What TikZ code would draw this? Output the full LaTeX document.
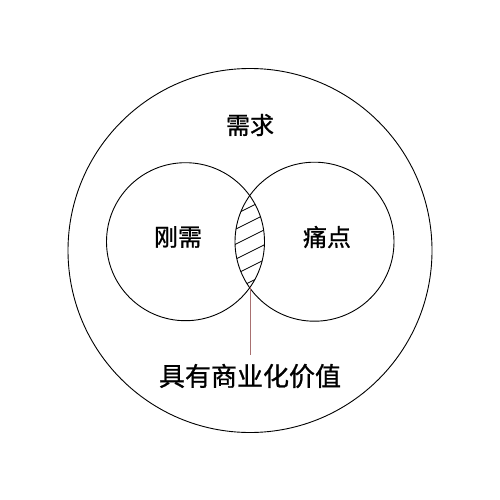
\documentclass[tikz,border=0pt]{standalone}
\usepackage{fontspec}
\newfontfamily\cjk[FakeBold=0.9]{Noto Sans CJK SC}
\begin{document}
\begin{tikzpicture}[x=1pt,y=-1pt,
  ring/.style={draw=black,line width=0.9pt,circle,inner sep=0pt},
  lbl/.style={font=\cjk\fontsize{24}{28}\selectfont,text=black,inner sep=0pt},
  hatch/.style={draw=black,line width=0.8pt},
  lead/.style={draw=leadcol,line width=0.7pt}]
\definecolor{leadcol}{HTML}{A87070}
\fill[white] (0,0) rectangle (500,500);
\useasboundingbox (0,0) rectangle (500,500);
\node[ring,minimum size=364pt] (outer) at (250,250.5) {};
\node[ring,minimum size=158pt] (left) at (185.5,241.7) {};
\node[ring,minimum size=159pt] (right) at (314.5,241.7) {};
\begin{scope}
  \clip (185.5,241.7) circle (79pt);
  \clip (314.5,241.7) circle (79.5pt);
  \foreach \c in {207,222,237,252,267,282}
    \draw[hatch] (220,\c+15) -- (280,\c-15);
\end{scope}
\coordinate (lensbottom) at (250,287);
\node[lbl] (need) at (250,125) {需求};
\node[lbl] (rigid) at (178,237) {刚需};
\node[lbl] (pain) at (327,237) {痛点};
\node[lbl,font=\cjk\fontsize{26}{30}\selectfont,inner ysep=9pt] (value) at (250,376) {具有商业化价值};
\draw[lead] (lensbottom) -- (value.north);
\end{tikzpicture}
\end{document}
